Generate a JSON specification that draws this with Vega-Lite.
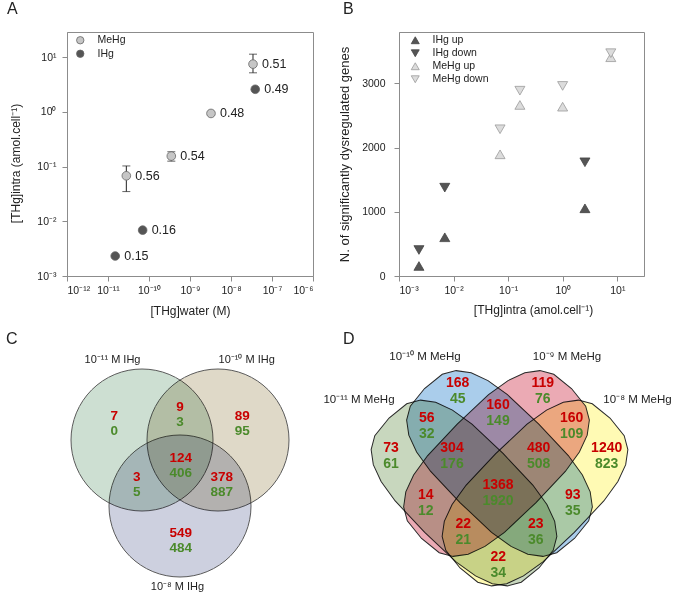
{
  "$schema": "https://vega.github.io/schema/vega-lite/v6.json",
  "padding": {"left": 6, "top": 0, "right": 0, "bottom": 0},
  "background": "white",
  "config": {
    "font": "Liberation Sans",
    "view": {"stroke": "#8c8c8c"},
    "axis": {"grid": false, "domainColor": "#8c8c8c", "tickColor": "#8c8c8c", "tickSize": 5, "labelFontSize": 10.5, "labelColor": "#222", "titleFontSize": 12, "titleFontWeight": "normal", "titleColor": "#222", "labelFont": "Liberation Sans", "titleFont": "Liberation Sans"},
    "legend": {"labelFontSize": 10.5, "labelColor": "#222", "padding": 0, "rowPadding": 1.5, "labelOffset": 12, "symbolStrokeWidth": 0.8, "labelFont": "Liberation Sans"},
    "title": {"fontSize": 16, "fontWeight": "normal", "anchor": "start", "frame": "group", "baseline": "alphabetic", "color": "#222", "font": "Liberation Sans"}
  },
  "datasets": {
    "cRegions": [
      {"up": 7, "down": 0, "x": 47.3, "y": 73.5},
      {"up": 9, "down": 3, "x": 113, "y": 64.2},
      {"up": 89, "down": 95, "x": 175.3, "y": 73.5},
      {"up": 124, "down": 406, "x": 113.7, "y": 115.8},
      {"up": 3, "down": 5, "x": 69.7, "y": 134.2},
      {"up": 378, "down": 887, "x": 154.7, "y": 134.2},
      {"up": 549, "down": 484, "x": 113.7, "y": 190.8}
    ],
    "dRegions": [
      {"up": 168, "down": 45, "x": 117.7, "y": 41.2},
      {"up": 119, "down": 76, "x": 202.7, "y": 41.2},
      {"up": 160, "down": 149, "x": 158, "y": 62.9},
      {"up": 56, "down": 32, "x": 86.7, "y": 75.5},
      {"up": 160, "down": 109, "x": 231.7, "y": 75.5},
      {"up": 73, "down": 61, "x": 51, "y": 106},
      {"up": 304, "down": 176, "x": 112, "y": 106},
      {"up": 480, "down": 508, "x": 198.7, "y": 106},
      {"up": 1240, "down": 823, "x": 266.7, "y": 106},
      {"up": 1368, "down": 1920, "x": 158, "y": 143.4},
      {"up": 14, "down": 12, "x": 85.7, "y": 153},
      {"up": 93, "down": 35, "x": 232.7, "y": 153},
      {"up": 22, "down": 21, "x": 123.3, "y": 181.7},
      {"up": 23, "down": 36, "x": 195.7, "y": 181.7},
      {"up": 22, "down": 34, "x": 158.3, "y": 214.7}
    ]
  },
  "bounds": "flush",
  "columns": 2,
  "spacing": {"row": 74, "column": 86},
  "resolve": {"scale": {"x": "independent", "y": "independent", "fill": "independent", "stroke": "independent", "shape": "independent"}, "legend": {"fill": "independent", "stroke": "independent", "shape": "independent"}},
  "concat": [
    {
      "width": 246, "height": 244,
      "title": {"text": "A", "dx": -60, "offset": 15},
      "data": {"values": [
        {"species": "MeHg", "water": 2.8e-11, "intra": 0.068, "lo": 0.035, "hi": 0.103, "ratio": "0.56"},
        {"species": "MeHg", "water": 3.5e-10, "intra": 0.156, "lo": 0.126, "hi": 0.187, "ratio": "0.54"},
        {"species": "MeHg", "water": 3.25e-9, "intra": 0.94, "lo": 0.88, "hi": 1.0, "ratio": "0.48"},
        {"species": "MeHg", "water": 3.44e-8, "intra": 7.5, "lo": 5.2, "hi": 11.4, "ratio": "0.51"},
        {"species": "IHg", "water": 1.5e-11, "intra": 0.00232, "lo": null, "hi": null, "ratio": "0.15"},
        {"species": "IHg", "water": 7e-11, "intra": 0.0069, "lo": null, "hi": null, "ratio": "0.16"},
        {"species": "IHg", "water": 3.9e-8, "intra": 2.6, "lo": null, "hi": null, "ratio": "0.49"}
      ]},
      "encoding": {
        "x": {"field": "water", "type": "quantitative", "scale": {"type": "log", "domain": [1e-12, 1e-6], "nice": false},
          "axis": {"values": [1e-12, 1e-11, 1e-10, 1e-9, 1e-8, 1e-7, 1e-6], "title": "[THg]water (M)", "minExtent": 20, "maxExtent": 20, "titlePadding": 9, "labelPadding": 4,
            "labelExpr": "'10' + replace(replace(replace(replace(replace(replace(replace(replace(replace(replace(replace('' + round(log(datum.value) / LN10), '-', '⁻'), regexp('0','g'), '⁰'), regexp('1','g'), '¹'), regexp('2','g'), '²'), regexp('3','g'), '³'), regexp('4','g'), '⁴'), regexp('5','g'), '⁵'), regexp('6','g'), '⁶'), regexp('7','g'), '⁷'), regexp('8','g'), '⁸'), regexp('9','g'), '⁹')"}},
        "y": {"field": "intra", "type": "quantitative", "scale": {"type": "log", "domain": [0.001, 29], "nice": false},
          "axis": {"values": [0.001, 0.01, 0.1, 1, 10], "title": "[THg]intra (amol.cell⁻¹)", "minExtent": 34, "maxExtent": 34, "titlePadding": 11, "labelPadding": 6, "titleY": 131,
            "labelExpr": "'10' + replace(replace(replace(replace(replace(replace(replace(replace(replace(replace(replace('' + round(log(datum.value) / LN10), '-', '⁻'), regexp('0','g'), '⁰'), regexp('1','g'), '¹'), regexp('2','g'), '²'), regexp('3','g'), '³'), regexp('4','g'), '⁴'), regexp('5','g'), '⁵'), regexp('6','g'), '⁶'), regexp('7','g'), '⁷'), regexp('8','g'), '⁸'), regexp('9','g'), '⁹')"}}
      },
      "layer": [
        {
          "transform": [{"filter": "isValid(datum.lo)"}],
          "mark": {"type": "errorbar", "ticks": {"size": 8}, "color": "#222"},
          "encoding": {
            "y": {"field": "lo", "type": "quantitative", "scale": {"type": "log", "domain": [0.001, 29], "nice": false}, "title": "[THg]intra (amol.cell⁻¹)"},
            "y2": {"field": "hi"}
          }
        },
        {
          "mark": {"type": "point", "shape": "circle", "filled": true, "size": 75, "opacity": 1, "stroke": "#666", "strokeWidth": 0.8},
          "encoding": {
            "fill": {"field": "species", "type": "nominal", "scale": {"domain": ["MeHg", "IHg"], "range": ["#c6c6c6", "#555555"]},
              "legend": {"title": null, "orient": "none", "legendX": 8, "legendY": 3, "symbolSize": 55, "symbolType": "circle", "symbolStrokeColor": "#666"}}
          }
        },
        {
          "mark": {"type": "text", "align": "left", "baseline": "middle", "dx": 9, "fontSize": 12.5, "color": "#222"},
          "encoding": {"text": {"field": "ratio"}}
        }
      ]
    },
    {
      "width": 245, "height": 244,
      "title": {"text": "B", "dx": -56, "offset": 15},
      "data": {"values": [
        {"series": "IHg up", "conc": 0.00232, "n": 156},
        {"series": "IHg up", "conc": 0.0069, "n": 603},
        {"series": "IHg up", "conc": 2.55, "n": 1054},
        {"series": "IHg down", "conc": 0.00232, "n": 405},
        {"series": "IHg down", "conc": 0.0069, "n": 1376},
        {"series": "IHg down", "conc": 2.55, "n": 1771},
        {"series": "MeHg up", "conc": 0.071, "n": 1895},
        {"series": "MeHg up", "conc": 0.164, "n": 2664},
        {"series": "MeHg up", "conc": 0.995, "n": 2637},
        {"series": "MeHg up", "conc": 7.6, "n": 3407},
        {"series": "MeHg down", "conc": 0.071, "n": 2285},
        {"series": "MeHg down", "conc": 0.164, "n": 2886},
        {"series": "MeHg down", "conc": 0.995, "n": 2960},
        {"series": "MeHg down", "conc": 7.6, "n": 3470}
      ]},
      "mark": {"type": "point", "filled": true, "size": 100, "opacity": 1, "strokeWidth": 0.8},
      "encoding": {
        "x": {"field": "conc", "type": "quantitative", "scale": {"type": "log", "domain": [0.001, 30.8], "nice": false},
          "axis": {"values": [0.001, 0.01, 0.1, 1, 10], "title": "[THg]intra (amol.cell⁻¹)", "minExtent": 20, "maxExtent": 20, "titlePadding": 8, "labelPadding": 4, "titleX": 134,
            "labelExpr": "'10' + replace(replace(replace(replace(replace(replace(replace(replace(replace(replace(replace('' + round(log(datum.value) / LN10), '-', '⁻'), regexp('0','g'), '⁰'), regexp('1','g'), '¹'), regexp('2','g'), '²'), regexp('3','g'), '³'), regexp('4','g'), '⁴'), regexp('5','g'), '⁵'), regexp('6','g'), '⁶'), regexp('7','g'), '⁷'), regexp('8','g'), '⁸'), regexp('9','g'), '⁹')"}},
        "y": {"field": "n", "type": "quantitative", "scale": {"domain": [0, 3800], "nice": false},
          "axis": {"values": [0, 1000, 2000, 3000], "format": "d", "title": "N. of significantly dysregulated genes", "titleFontSize": 13, "minExtent": 36, "maxExtent": 36, "titlePadding": 12, "labelPadding": 9}},
        "fill": {"field": "series", "type": "nominal", "scale": {"domain": ["IHg up", "IHg down", "MeHg up", "MeHg down"], "range": ["#555555", "#555555", "#dcdcdc", "#dcdcdc"]},
          "legend": {"title": null, "orient": "none", "legendX": 11, "legendY": 3, "symbolSize": 64, "rowPadding": 2}},
        "stroke": {"field": "series", "type": "nominal", "scale": {"domain": ["IHg up", "IHg down", "MeHg up", "MeHg down"], "range": ["#444444", "#444444", "#9a9a9a", "#9a9a9a"]},
          "legend": {"title": null, "orient": "none", "legendX": 11, "legendY": 3, "symbolSize": 64, "rowPadding": 2}},
        "shape": {"field": "series", "type": "nominal", "scale": {"domain": ["IHg up", "IHg down", "MeHg up", "MeHg down"], "range": ["triangle-up", "triangle-down", "triangle-up", "triangle-down"]},
          "legend": {"title": null, "orient": "none", "legendX": 11, "legendY": 3, "symbolSize": 64, "rowPadding": 2}}
      }
    },
    {
      "width": 246, "height": 244,
      "view": {"stroke": null},
      "title": {"text": "C", "dx": -61, "offset": 3},
      "layer": [
        {
          "data": {"values": [
            {"cset": "10⁻¹¹ M IHg", "cx": 75, "cy": 90},
            {"cset": "10⁻¹⁰ M IHg", "cx": 151, "cy": 90},
            {"cset": "10⁻⁸ M IHg", "cx": 113, "cy": 156}
          ]},
          "mark": {"type": "point", "shape": "circle", "filled": true, "size": 20164, "opacity": 1, "stroke": "#5a5a5a", "strokeWidth": 1, "blend": "multiply"},
          "encoding": {
            "x": {"field": "cx", "type": "quantitative", "scale": {"domain": [0, 246], "nice": false, "zero": false}, "axis": null},
            "y": {"field": "cy", "type": "quantitative", "scale": {"domain": [0, 244], "nice": false, "zero": false, "reverse": true}, "axis": null},
            "fill": {"field": "cset", "type": "nominal", "scale": {"domain": ["10⁻¹¹ M IHg", "10⁻¹⁰ M IHg", "10⁻⁸ M IHg"], "range": ["#cddfd2", "#dfd9c8", "#cdd0df"]}, "legend": null}
          }
        },
        {
          "data": {"values": [
            {"label": "10⁻¹¹ M IHg", "lx": 45.5, "ly": 10},
            {"label": "10⁻¹⁰ M IHg", "lx": 179.7, "ly": 10},
            {"label": "10⁻⁸ M IHg", "lx": 110.5, "ly": 237.3}
          ]},
          "mark": {"type": "text", "fontSize": 11, "color": "#222", "baseline": "middle"},
          "encoding": {
            "x": {"field": "lx", "type": "quantitative", "scale": {"domain": [0, 246], "nice": false, "zero": false}, "axis": null},
            "y": {"field": "ly", "type": "quantitative", "scale": {"domain": [0, 244], "nice": false, "zero": false, "reverse": true}, "axis": null},
            "text": {"field": "label"}
          }
        },
        {
          "data": {"name": "cRegions"},
          "mark": {"type": "text", "fontSize": 13.5, "fontWeight": "bold", "color": "#c80000", "baseline": "middle", "dy": -7.5},
          "encoding": {
            "x": {"field": "x", "type": "quantitative", "scale": {"domain": [0, 246], "nice": false, "zero": false}, "axis": null},
            "y": {"field": "y", "type": "quantitative", "scale": {"domain": [0, 244], "nice": false, "zero": false, "reverse": true}, "axis": null},
            "text": {"field": "up"}
          }
        },
        {
          "data": {"name": "cRegions"},
          "mark": {"type": "text", "fontSize": 13.5, "fontWeight": "bold", "color": "#4b8a2b", "baseline": "middle", "dy": 7.5},
          "encoding": {
            "x": {"field": "x", "type": "quantitative", "scale": {"domain": [0, 246], "nice": false, "zero": false}, "axis": null},
            "y": {"field": "y", "type": "quantitative", "scale": {"domain": [0, 244], "nice": false, "zero": false, "reverse": true}, "axis": null},
            "text": {"field": "down"}
          }
        }
      ]
    },
    {
      "width": 245, "height": 244,
      "view": {"stroke": null},
      "title": {"text": "D", "dx": -56, "offset": 3},
      "layer": [
        {
          "data": {"values": [
            {"mset": "10⁻¹¹ M MeHg", "cx": 124, "cy": 143},
            {"mset": "10⁻¹⁰ M MeHg", "cx": 159.5, "cy": 113.5}
          ]},
          "mark": {"type": "point", "shape": "M1,0 L0.977,0.213 L0.909,0.33 L0.794,0.416 L0.63,0.476 L0.406,0.512 L0,0.524 L-0.406,0.512 L-0.63,0.476 L-0.794,0.416 L-0.909,0.33 L-0.977,0.213 L-1,0 L-0.977,-0.213 L-0.909,-0.33 L-0.794,-0.416 L-0.63,-0.476 L-0.406,-0.512 L0,-0.524 L0.406,-0.512 L0.63,-0.476 L0.794,-0.416 L0.909,-0.33 L0.977,-0.213 Z", "angle": 45, "filled": true, "size": 44944, "opacity": 1, "stroke": "#2a2a2a", "strokeWidth": 1, "blend": "multiply"},
          "encoding": {
            "x": {"field": "cx", "type": "quantitative", "scale": {"domain": [59, 304], "nice": false, "zero": false}, "axis": null},
            "y": {"field": "cy", "type": "quantitative", "scale": {"domain": [0, 244], "nice": false, "zero": false, "reverse": true}, "axis": null},
            "fill": {"field": "mset", "type": "nominal", "scale": {"domain": ["10⁻¹¹ M MeHg", "10⁻¹⁰ M MeHg", "10⁻⁹ M MeHg", "10⁻⁸ M MeHg"], "range": ["#c8d7be", "#aacdeb", "#ebaab4", "#fffab4"]}, "legend": null}
          }
        },
        {
          "data": {"values": [
            {"mset": "10⁻⁹ M MeHg", "cx": 156.5, "cy": 113.5},
            {"mset": "10⁻⁸ M MeHg", "cx": 195, "cy": 143}
          ]},
          "mark": {"type": "point", "shape": "M1,0 L0.977,0.213 L0.909,0.33 L0.794,0.416 L0.63,0.476 L0.406,0.512 L0,0.524 L-0.406,0.512 L-0.63,0.476 L-0.794,0.416 L-0.909,0.33 L-0.977,0.213 L-1,0 L-0.977,-0.213 L-0.909,-0.33 L-0.794,-0.416 L-0.63,-0.476 L-0.406,-0.512 L0,-0.524 L0.406,-0.512 L0.63,-0.476 L0.794,-0.416 L0.909,-0.33 L0.977,-0.213 Z", "angle": -45, "filled": true, "size": 44944, "opacity": 1, "stroke": "#2a2a2a", "strokeWidth": 1, "blend": "multiply"},
          "encoding": {
            "x": {"field": "cx", "type": "quantitative", "scale": {"domain": [59, 304], "nice": false, "zero": false}, "axis": null},
            "y": {"field": "cy", "type": "quantitative", "scale": {"domain": [0, 244], "nice": false, "zero": false, "reverse": true}, "axis": null},
            "fill": {"field": "mset", "type": "nominal", "scale": {"domain": ["10⁻¹¹ M MeHg", "10⁻¹⁰ M MeHg", "10⁻⁹ M MeHg", "10⁻⁸ M MeHg"], "range": ["#c8d7be", "#aacdeb", "#ebaab4", "#fffab4"]}, "legend": null}
          }
        },
        {
          "data": {"values": [
            {"label": "10⁻¹⁰ M MeHg", "lx": 85, "ly": 7},
            {"label": "10⁻⁹ M MeHg", "lx": 227, "ly": 7},
            {"label": "10⁻¹¹ M MeHg", "lx": 19, "ly": 50},
            {"label": "10⁻⁸ M MeHg", "lx": 297.5, "ly": 50}
          ]},
          "mark": {"type": "text", "fontSize": 11.5, "color": "#222", "baseline": "middle"},
          "encoding": {
            "x": {"field": "lx", "type": "quantitative", "scale": {"domain": [59, 304], "nice": false, "zero": false}, "axis": null},
            "y": {"field": "ly", "type": "quantitative", "scale": {"domain": [0, 244], "nice": false, "zero": false, "reverse": true}, "axis": null},
            "text": {"field": "label"}
          }
        },
        {
          "data": {"name": "dRegions"},
          "mark": {"type": "text", "fontSize": 14, "fontWeight": "bold", "color": "#c80000", "baseline": "middle", "dy": -8},
          "encoding": {
            "x": {"field": "x", "type": "quantitative", "scale": {"domain": [59, 304], "nice": false, "zero": false}, "axis": null},
            "y": {"field": "y", "type": "quantitative", "scale": {"domain": [0, 244], "nice": false, "zero": false, "reverse": true}, "axis": null},
            "text": {"field": "up"}
          }
        },
        {
          "data": {"name": "dRegions"},
          "mark": {"type": "text", "fontSize": 14, "fontWeight": "bold", "color": "#4b8a2b", "baseline": "middle", "dy": 8},
          "encoding": {
            "x": {"field": "x", "type": "quantitative", "scale": {"domain": [59, 304], "nice": false, "zero": false}, "axis": null},
            "y": {"field": "y", "type": "quantitative", "scale": {"domain": [0, 244], "nice": false, "zero": false, "reverse": true}, "axis": null},
            "text": {"field": "down"}
          }
        }
      ]
    }
  ]
}
